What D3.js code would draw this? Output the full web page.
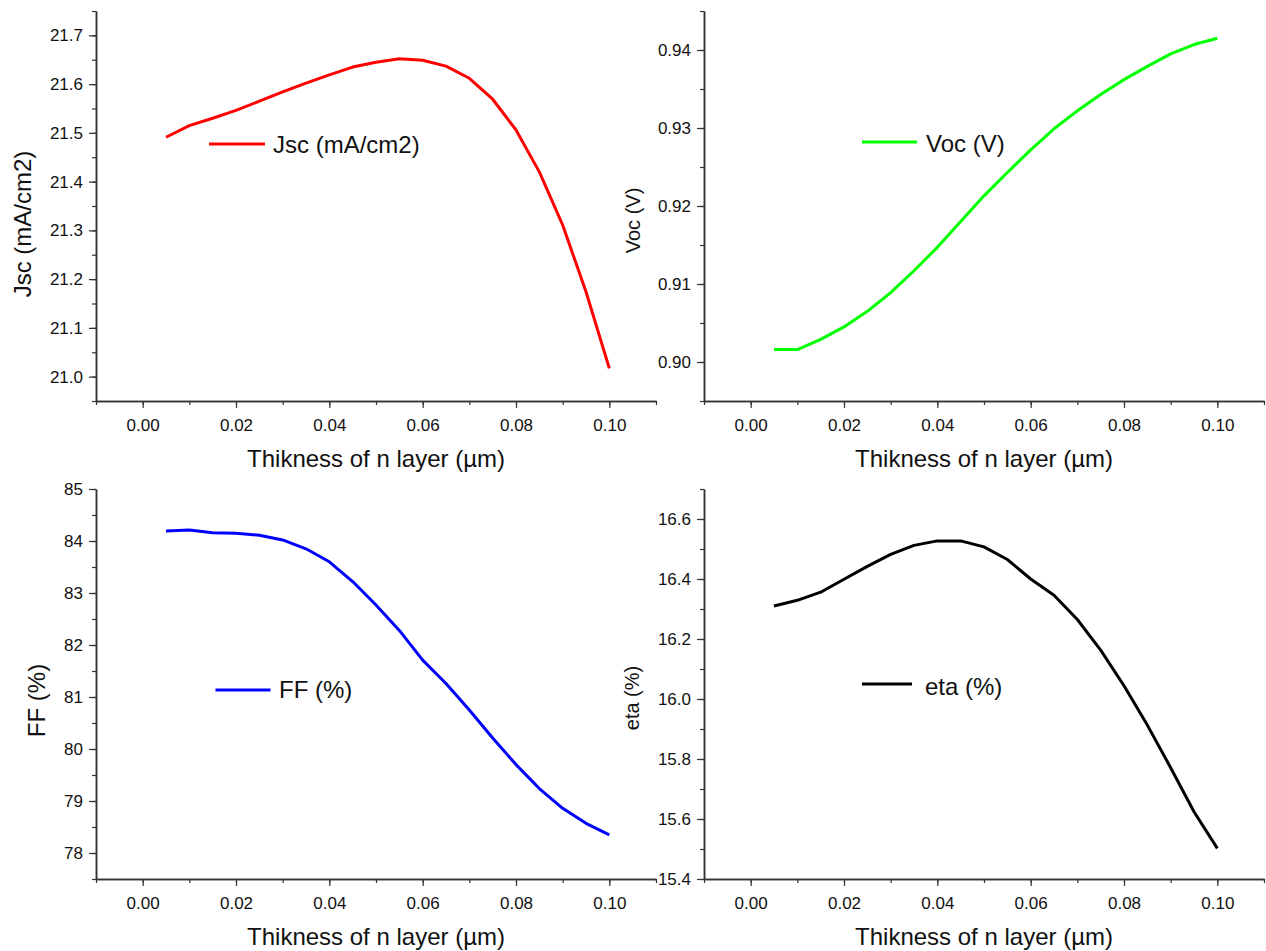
<!DOCTYPE html>
<html>
<head>
<meta charset="utf-8">
<script src="https://cdn.jsdelivr.net/npm/d3@7"></script>
<style>
  body { margin: 0; background: #fff; }
  text { font-family: "Liberation Sans", Arial, sans-serif; fill: #111; }
</style>
</head>
<body>
<svg id="chart" width="1266" height="951"></svg>
<script>
// thickness of n layer (um)
var thickness = [0.005, 0.010, 0.015, 0.020, 0.025, 0.030, 0.035, 0.040, 0.045, 0.050,
                 0.055, 0.060, 0.065, 0.070, 0.075, 0.080, 0.085, 0.090, 0.095, 0.100];

var jsc = [21.491, 21.515, 21.530, 21.546, 21.565, 21.584, 21.602, 21.619, 21.635, 21.645,
           21.652, 21.649, 21.637, 21.612, 21.569, 21.506, 21.420, 21.311, 21.174, 21.017];

var voc = [0.9016, 0.9016, 0.9029, 0.9045, 0.9065, 0.9089, 0.9117, 0.9147, 0.9180, 0.9213,
           0.9243, 0.9272, 0.9299, 0.9322, 0.9343, 0.9362, 0.9379, 0.9395, 0.9407, 0.9415];

var ff = [84.19, 84.21, 84.16, 84.15, 84.11, 84.02, 83.85, 83.60, 83.22, 82.77,
          82.28, 81.71, 81.26, 80.75, 80.21, 79.70, 79.24, 78.86, 78.57, 78.35];

var eta = [16.310, 16.329, 16.356, 16.399, 16.442, 16.482, 16.512, 16.527, 16.527, 16.507,
           16.465, 16.400, 16.346, 16.265, 16.163, 16.044, 15.913, 15.771, 15.624, 15.502];

// tick labels
var xTicks   = [0.00, 0.02, 0.04, 0.06, 0.08, 0.10];
var jscTicks = [21.0, 21.1, 21.2, 21.3, 21.4, 21.5, 21.6, 21.7];
var vocTicks = [0.90, 0.91, 0.92, 0.93, 0.94];
var ffTicks  = [78, 79, 80, 81, 82, 83, 84, 85];
var etaTicks = [15.4, 15.6, 15.8, 16.0, 16.2, 16.4, 16.6];

var svg = d3.select("#chart");

function drawPanel(p){

	var x = d3.scaleLinear().domain([-0.01, 0.11]).range([p.left, p.right]);
	var y = d3.scaleLinear().domain(p.yDomain).range([p.bottom, p.top]);

	var g = svg.append("g");

	// minor ticks first, major ticks with labels on top
	// ------------------------------------------------
	var xMinor = d3.range(-0.01, 0.1101, 0.01).map(function(d){ return +d.toFixed(3); });
	var yMinor = d3.range(p.yDomain[0], p.yDomain[1] + p.yMinorStep/10, p.yMinorStep)
		.map(function(d){ return +d.toFixed(4); });

	g.append("g")
		.attr("transform", "translate(0," + p.bottom + ")")
		.call(d3.axisBottom(x).tickValues(xMinor).tickSize(4).tickSizeOuter(0).tickFormat(""));
	g.append("g")
		.attr("transform", "translate(" + p.left + ",0)")
		.call(d3.axisLeft(y).tickValues(yMinor).tickSize(4).tickSizeOuter(0).tickFormat(""));

	var xAxis = g.append("g")
		.attr("transform", "translate(0," + p.bottom + ")")
		.call(d3.axisBottom(x).tickValues(xTicks).tickSize(7).tickSizeOuter(0)
			.tickPadding(7).tickFormat(d3.format(".2f")));
	var yAxis = g.append("g")
		.attr("transform", "translate(" + p.left + ",0)")
		.call(d3.axisLeft(y).tickValues(p.yTicks).tickSize(7).tickSizeOuter(0)
			.tickPadding(6).tickFormat(d3.format(p.yFormat)));

	g.selectAll(".domain").attr("stroke", "#333").attr("stroke-width", 1.5);
	g.selectAll(".tick line").attr("stroke", "#333").attr("stroke-width", 1.2);
	g.selectAll(".tick text")
		.style("font-family", "'Liberation Sans', Arial, sans-serif")
		.style("font-size", "17px").attr("fill", "#111");
	xAxis.selectAll(".tick text").attr("dy", "0.95em");

	// curve
	// ------------------------------------------------
	var line = d3.line()
		.x(function(d, i){ return x(thickness[i]); })
		.y(function(d){ return y(d); });

	g.append("path")
		.datum(p.values)
		.attr("d", line)
		.attr("style", "fill:none;stroke:" + p.color + ";stroke-width:3;stroke-linejoin:round;");

	// legend
	// ------------------------------------------------
	g.append("line")
		.attr("x1", p.legend[0]).attr("x2", p.legend[1])
		.attr("y1", p.legend[2]).attr("y2", p.legend[2])
		.attr("style", "stroke:" + p.color + ";stroke-width:3;");
	g.append("text")
		.attr("x", p.legend[3]).attr("y", p.legend[4])
		.style("font-size", "24px")
		.text(p.name);

	// axis titles
	// ------------------------------------------------
	g.append("text")
		.attr("x", (p.left + p.right) / 2)
		.attr("y", p.xTitleY)
		.attr("text-anchor", "middle")
		.style("font-size", "24px")
		.text("Thikness of n layer (\u00b5m)");

	g.append("text")
		.attr("transform", "translate(" + p.yTitle[0] + "," + p.yTitle[1] + ") rotate(-90)")
		.attr("text-anchor", "middle")
		.style("font-size", p.yTitle[2] + "px")
		.text(p.name);
}

drawPanel({ left: 96, right: 656, top: 11, bottom: 401,
	yDomain: [20.95, 21.75], yTicks: jscTicks, yMinorStep: 0.05, yFormat: ".1f",
	values: jsc, color: "#ff0000", name: "Jsc (mA/cm2)",
	legend: [209, 265, 144, 273, 152.5], xTitleY: 466.5, yTitle: [30.5, 224, 24] });

drawPanel({ left: 704, right: 1264, top: 11, bottom: 401,
	yDomain: [0.895, 0.945], yTicks: vocTicks, yMinorStep: 0.005, yFormat: ".2f",
	values: voc, color: "#00ff00", name: "Voc (V)",
	legend: [862, 917, 142, 926, 151.5], xTitleY: 466.5, yTitle: [640, 220.5, 20] });

drawPanel({ left: 96, right: 656, top: 489, bottom: 879,
	yDomain: [77.5, 85], yTicks: ffTicks, yMinorStep: 0.5, yFormat: "d",
	values: ff, color: "#0000ff", name: "FF (%)",
	legend: [215.5, 270.5, 690, 279, 698], xTitleY: 945, yTitle: [44.5, 700.5, 24] });

drawPanel({ left: 704, right: 1264, top: 489, bottom: 879,
	yDomain: [15.4, 16.7], yTicks: etaTicks, yMinorStep: 0.1, yFormat: ".1f",
	values: eta, color: "#000000", name: "eta (%)",
	legend: [862, 912, 684, 925, 695], xTitleY: 945, yTitle: [639, 698, 20] });
</script>
</body>
</html>
